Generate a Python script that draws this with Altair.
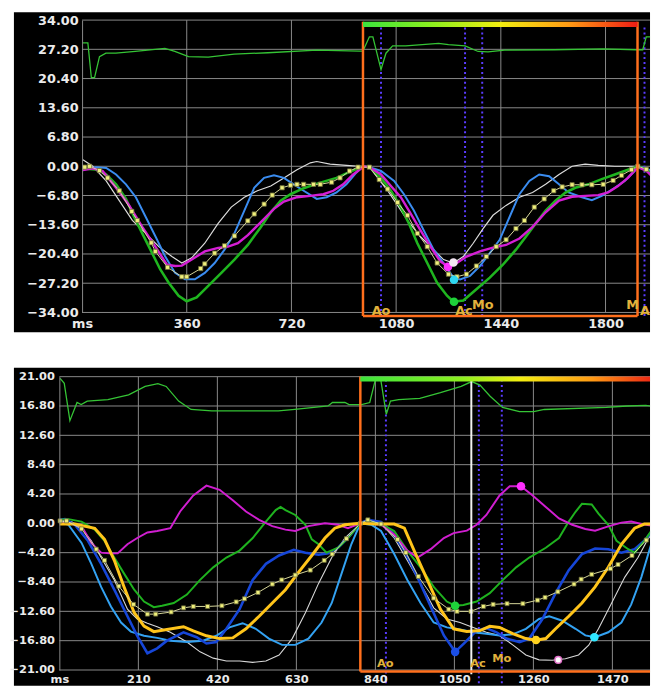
import altair as alt
import pandas as pd

# ======================= TOP PANEL DATA (ms, strain %) =======================
TOP_X_DOMAIN = [-78, 1953]
TOP_Y_DOMAIN = [-34, 34]
TOP_X_TICKS = [0, 360, 720, 1080, 1440, 1800]
TOP_X_GRID = [360, 720, 1080, 1440, 1800]
TOP_Y_TICKS = [-34.0, -27.2, -20.4, -13.6, -6.8, 0.0, 6.8, 13.6, 20.4, 27.2, 34.0]
TOP_CYCLE = [966, 1910]
TOP_EVENTS = [1028, 1317, 1376, 1934]
TOP_EVENT_TEXT = ["Ao", "Ac", "Mo", "M"]
TOP_EVENT_TEXT_MS = [1028, 1313, 1378, 1893]
TOP_EVENT_TEXT_VAL = [-33.6, -33.6, -32.2, -32.2]
TOP_EDGE_TEXT = ["A"]
TOP_EDGE_TEXT_MS = [1953]
TOP_EDGE_TEXT_VAL = [-33.6]

TOP_ECG = [(3, 28.7), (20, 28.7), (32, 20.6), (43, 20.6), (60, 25.5), (82, 26.3), (116, 26.3),
           (183, 26.7), (285, 27.4), (319, 26.7), (366, 25.5), (434, 25.4), (523, 26.1),
           (639, 26.4), (807, 27.0), (954, 26.8), (966, 26.8), (988, 30.1), (1000, 30.1),
           (1028, 22.5), (1045, 26.3), (1068, 28.0), (1113, 28.0), (1226, 28.6), (1260, 28.3),
           (1317, 28.0), (1362, 26.7), (1396, 26.6), (1453, 27.0), (1623, 27.1), (1792, 27.3),
           (1906, 27.1), (1928, 27.1), (1940, 30.1), (1955, 30.1), (1973, 25.0)]

TOP_GREEN = [(3, -0.5), (54, -0.8), (83, -1.9), (117, -4.2), (151, -7.6), (179, -11.8), (207, -15.6),
             (241, -20.2), (269, -24.0), (298, -27.1), (332, -30.1), (360, -31.4), (394, -30.5),
             (434, -27.8), (479, -24.8), (524, -21.7), (570, -18.3), (615, -14.1), (649, -10.7),
             (683, -8.0), (717, -6.5), (762, -5.1), (819, -3.8), (875, -2.7), (920, -1.3), (954, -0.4),
             (966, 0.0), (988, -0.2), (1028, -2.7), (1062, -5.7), (1096, -9.5), (1124, -13.3),
             (1153, -17.9), (1187, -22.5), (1221, -27.1), (1255, -30.1), (1277, -31.5), (1311, -31.2),
             (1356, -28.6), (1402, -25.9), (1447, -22.9), (1492, -19.4), (1526, -16.4), (1560, -13.3),
             (1594, -10.3), (1628, -8.0), (1662, -6.1), (1696, -5.0), (1741, -4.2), (1787, -3.0),
             (1832, -1.9), (1877, -0.8), (1911, 0.0), (1940, -0.8), (1973, -2.5)]

TOP_MAGENTA = [(3, -0.9), (37, -0.5), (71, -1.1), (117, -5.0), (162, -9.1), (207, -14.1), (252, -18.7),
               (292, -22.9), (320, -23.2), (343, -23.1), (377, -21.7), (422, -19.8), (468, -19.0),
               (502, -18.7), (536, -17.9), (570, -16.0), (615, -13.0), (660, -9.9), (694, -8.2),
               (739, -7.2), (785, -6.9), (830, -6.5), (864, -5.7), (898, -4.2), (932, -1.9), (960, -0.5),
               (966, 0.0), (988, -0.2), (1028, -1.9), (1062, -4.6), (1096, -7.2), (1130, -11.0),
               (1164, -14.9), (1198, -18.7), (1232, -22.1), (1260, -23.4), (1289, -22.5), (1322, -21.0),
               (1368, -19.8), (1413, -18.9), (1458, -18.3), (1504, -16.8), (1549, -14.1), (1594, -10.7),
               (1640, -8.0), (1685, -7.1), (1730, -6.9), (1775, -6.7), (1809, -6.1), (1843, -4.6),
               (1877, -2.7), (1911, -0.2), (1940, -1.0), (1973, -3.2)]

TOP_BLUE = [(3, -0.8), (49, -0.2), (83, -0.4), (117, -1.9), (151, -4.2), (185, -7.2), (219, -11.8),
            (253, -16.4), (286, -21.0), (320, -24.8), (354, -26.3), (388, -26.3), (422, -24.8),
            (456, -22.5), (490, -19.4), (524, -15.6), (558, -10.3), (592, -5.0), (626, -2.7),
            (660, -2.1), (694, -2.7), (728, -4.2), (762, -5.7), (807, -7.6), (841, -7.2), (875, -6.1),
            (909, -4.2), (943, -1.5), (966, 0.0), (988, -0.2), (1028, -1.1), (1073, -3.4), (1107, -6.5),
            (1141, -10.3), (1175, -14.9), (1209, -19.4), (1243, -22.5), (1277, -25.9), (1300, -26.3),
            (1334, -25.5), (1368, -23.2), (1402, -20.2), (1436, -17.1), (1470, -11.8), (1504, -6.5),
            (1538, -3.4), (1572, -1.9), (1606, -2.3), (1640, -4.2), (1673, -6.1), (1719, -7.2),
            (1753, -7.9), (1787, -6.9), (1832, -5.0), (1866, -3.4), (1900, -1.1), (1911, 0.0),
            (1940, -0.5), (1973, -1.5)]

TOP_WHITE = [(3, 1.5), (37, 0.0), (83, -3.4), (128, -8.0), (173, -12.6), (219, -15.6), (264, -18.7),
             (309, -21.0), (343, -22.5), (377, -21.3), (422, -17.9), (468, -13.3), (513, -9.5),
             (558, -7.2), (603, -5.7), (649, -4.6), (694, -2.7), (739, -0.8), (785, 0.8), (807, 1.1),
             (853, 0.5), (909, 0.2), (954, 0.0), (966, 0.0), (988, -0.2), (1017, -2.7), (1051, -5.7),
             (1085, -9.1), (1119, -12.6), (1164, -16.4), (1209, -19.4), (1243, -21.7), (1277, -22.5),
             (1311, -21.0), (1345, -17.9), (1379, -14.5), (1413, -11.4), (1458, -9.1), (1504, -7.2),
             (1549, -6.1), (1594, -4.2), (1640, -1.9), (1685, 0.0), (1730, 0.5), (1775, 0.2),
             (1832, 0.0), (1911, 0.0), (1940, -1.0), (1973, -2.8)]

TOP_AVG = [(9, -0.2), (26, 0.0), (60, -1.0), (88, -2.7), (128, -5.7), (171, -10.5), (190, -12.6),
           (238, -17.8), (252, -19.8), (294, -23.5), (343, -25.7), (360, -25.7), (408, -23.8),
           (422, -22.7), (456, -20.2), (490, -18.5), (524, -16.2), (570, -12.7), (592, -11.1),
           (626, -8.8), (654, -6.7), (688, -5.0), (717, -4.4), (739, -4.2), (762, -4.2), (796, -4.2),
           (819, -4.2), (858, -3.7), (887, -2.7), (920, -1.1), (949, -0.2), (988, -0.2), (1022, -3.1),
           (1051, -5.3), (1085, -8.4), (1119, -11.4), (1153, -15.6), (1187, -18.7), (1221, -22.5),
           (1260, -25.1), (1289, -25.7), (1322, -25.1), (1356, -23.2), (1390, -21.0), (1424, -18.7),
           (1458, -17.1), (1492, -14.5), (1521, -12.6), (1555, -9.5), (1589, -7.6), (1622, -5.7),
           (1651, -4.8), (1685, -4.3), (1719, -4.3), (1753, -4.3), (1792, -4.2), (1826, -3.3),
           (1855, -2.1), (1889, -0.8), (1911, 0.0), (1940, -0.7)]

TOP_PEAK_MS = [1258, 1277, 1279, 1279]
TOP_PEAK_VAL = [-23.4, -22.4, -26.4, -31.5]
TOP_PEAK_COLOR = ["#ff2eff", "#f4e6f4", "#2ed8f2", "#1ed23a"]

# ======================= BOTTOM PANEL DATA (ms, strain %) =======================
BOT_X_DOMAIN = [0, 1570]
BOT_Y_DOMAIN = [-21, 21]
BOT_X_TICKS = [0, 210, 420, 630, 840, 1050, 1260, 1470]
BOT_X_GRID = [210, 420, 630, 840, 1050, 1260, 1470]
BOT_Y_TICKS = [-21.0, -16.8, -12.6, -8.4, -4.2, 0.0, 4.2, 8.4, 12.6, 16.8, 21.0]
BOT_CYCLE_START = 800
BOT_EVENTS = [868, 1115, 1176]
BOT_CURSOR = 1095
BOT_EVENT_TEXT = ["Ao", "Ac", "Mo"]
BOT_EVENT_TEXT_MS = [866, 1113, 1176]
BOT_EVENT_TEXT_VAL = [-20.2, -20.2, -19.5]

BOT_ECG = [(2, 20.75), (13, 20.05), (28, 14.7), (47, 17.3), (58, 17.0), (74, 17.5), (129, 17.7),
           (184, 18.4), (228, 19.6), (262, 20.0), (284, 19.6), (317, 17.5), (350, 16.3), (405, 16.1),
           (582, 16.1), (626, 16.3), (714, 16.8), (726, 17.3), (759, 17.3), (770, 17.0), (803, 17.0),
           (825, 17.3), (842, 21.0), (853, 21.0), (869, 15.6), (880, 17.5), (902, 17.7), (958, 17.9),
           (1013, 18.7), (1068, 19.6), (1096, 20.3), (1118, 19.8), (1145, 18.2), (1178, 16.6),
           (1223, 16.0), (1261, 16.0), (1289, 16.3), (1454, 16.6), (1509, 16.8), (1559, 16.9),
           (1585, 16.7)]

BOT_MAGENTA = [(0, 0.0), (24, 0.0), (59, -0.4), (85, -2.8), (111, -4.2), (133, -4.3), (155, -4.3),
               (181, -3.0), (207, -2.1), (234, -1.3), (260, -1.1), (295, -0.7), (321, 1.7), (356, 4.0),
               (391, 5.4), (426, 4.8), (461, 3.3), (496, 1.7), (531, 0.5), (566, -0.4), (601, -0.9),
               (627, -1.1), (662, -0.4), (706, 0.0), (741, -0.2), (767, -0.7), (800, 0.0), (820, 0.0),
               (855, -0.2), (890, -1.6), (925, -3.9), (952, -4.9), (987, -3.7), (1022, -2.1),
               (1048, -1.4), (1083, -1.05), (1109, -0.2), (1135, 1.2), (1170, 4.0), (1197, 5.3),
               (1227, 5.3), (1258, 4.0), (1293, 2.35), (1328, 0.7), (1363, -0.2), (1398, -0.8),
               (1424, -1.05), (1459, -0.44), (1494, 0.1), (1520, 0.25), (1547, -0.1), (1585, -0.4)]

BOT_GREEN = [(0, 0.5), (24, 0.6), (59, 0.25), (94, -0.9), (120, -2.5), (146, -4.9), (172, -7.2),
             (199, -9.5), (225, -11.2), (251, -12.0), (273, -11.8), (304, -11.4), (339, -10.2),
             (374, -8.1), (409, -6.3), (444, -4.9), (479, -3.9), (514, -2.1), (549, 0.25), (575, 1.9),
             (588, 2.35), (601, 1.9), (627, 1.2), (654, -0.2), (671, -2.3), (689, -3.0), (710, -4.2),
             (741, -3.5), (767, -2.1), (800, 0.0), (820, 0.2), (855, -0.1), (890, -1.1), (925, -3.9),
             (960, -6.3), (995, -9.1), (1030, -11.2), (1052, -11.8), (1074, -11.7), (1109, -11.2),
             (1144, -10.0), (1179, -8.1), (1214, -6.3), (1249, -4.9), (1293, -3.5), (1328, -2.1),
             (1354, 0.25), (1372, 1.65), (1389, 2.8), (1415, 2.7), (1433, 1.4), (1459, -0.2),
             (1481, -2.5), (1512, -3.7), (1529, -4.2), (1555, -2.5), (1582, -0.4)]

BOT_YELLOW = [(0, -0.1), (41, -0.1), (94, -0.7), (120, -2.3), (146, -5.3), (172, -9.1), (199, -12.8),
              (225, -14.7), (251, -15.5), (286, -15.2), (330, -14.8), (356, -15.4), (391, -16.1),
              (426, -16.5), (461, -16.4), (496, -15.1), (531, -13.3), (566, -11.4), (601, -9.5),
              (636, -7.0), (671, -4.6), (706, -2.1), (732, -0.7), (759, -0.2), (800, 0.0), (838, -0.1),
              (890, -0.1), (917, -0.7), (943, -3.9), (978, -8.1), (1013, -12.3), (1048, -15.1),
              (1083, -15.5), (1118, -15.35), (1144, -14.75), (1170, -14.9), (1205, -15.8), (1240, -16.5),
              (1267, -16.75), (1293, -16.5), (1319, -15.1), (1354, -13.3), (1389, -11.4), (1424, -9.1),
              (1459, -6.3), (1494, -3.0), (1529, -0.7), (1555, -0.1), (1585, -0.1)]

BOT_DBLUE = [(0, 0.5), (15, 0.6), (41, -0.2), (76, -2.5), (111, -5.8), (146, -9.5), (181, -13.3),
             (207, -16.1), (234, -18.6), (260, -17.9), (286, -16.8), (330, -15.6), (365, -16.3),
             (391, -17.2), (417, -17.0), (444, -15.1), (479, -12.3), (514, -8.1), (549, -5.8),
             (584, -4.6), (623, -3.8), (654, -4.2), (689, -4.5), (715, -4.3), (741, -3.5), (767, -2.1),
             (800, 0.0), (820, 0.5), (855, 0.2), (882, -1.1), (917, -3.9), (952, -7.7), (987, -11.9),
             (1022, -16.05), (1052, -18.4), (1079, -17.0), (1109, -15.35), (1135, -15.0), (1162, -15.6),
             (1188, -16.5), (1223, -17.0), (1249, -16.5), (1284, -13.7), (1319, -10.0), (1354, -6.7),
             (1389, -4.4), (1424, -3.6), (1459, -3.7), (1494, -4.2), (1529, -3.7), (1555, -2.5),
             (1582, -0.7)]

BOT_SKY = [(0, 0.25), (24, -0.2), (59, -2.8), (85, -5.8), (111, -9.1), (137, -11.9), (164, -14.2),
           (190, -15.5), (225, -16.1), (260, -16.4), (295, -16.8), (339, -17.0), (382, -16.8),
           (417, -16.1), (452, -14.9), (487, -14.3), (522, -15.1), (557, -16.5), (592, -17.4),
           (627, -17.4), (662, -16.5), (697, -14.2), (724, -11.4), (750, -7.2), (776, -3.0), (800, 0.0),
           (829, -0.2), (855, -1.1), (890, -4.4), (925, -8.1), (960, -11.4), (995, -14.2), (1030, -14.9),
           (1065, -15.2), (1100, -15.6), (1135, -15.8), (1170, -16.05), (1205, -15.9), (1240, -15.1),
           (1275, -13.7), (1302, -13.3), (1337, -13.95), (1372, -15.1), (1398, -16.05), (1424, -16.3),
           (1459, -15.6), (1494, -14.2), (1520, -11.6), (1547, -7.7), (1573, -3.0), (1585, -1.0)]

BOT_WHITE = [(0, 0.25), (32, 0.25), (59, -0.7), (85, -2.5), (111, -4.9), (146, -8.1), (181, -12.3),
             (207, -13.7), (234, -14.3), (260, -14.8), (295, -15.6), (339, -17.0), (374, -18.4),
             (409, -19.3), (444, -19.7), (479, -19.7), (514, -19.9), (549, -19.7), (584, -18.85),
             (619, -16.5), (654, -12.8), (689, -8.6), (724, -4.9), (759, -2.1), (800, 0.0), (820, 0.5),
             (855, 0.0), (890, -2.1), (925, -5.3), (960, -8.6), (995, -12.1), (1030, -13.7),
             (1065, -14.2), (1100, -14.9), (1135, -15.6), (1170, -16.05), (1205, -17.4), (1240, -18.85),
             (1275, -19.55), (1310, -19.6), (1345, -19.4), (1380, -18.85), (1407, -17.45),
             (1433, -15.1), (1468, -11.4), (1503, -7.7), (1538, -4.9), (1564, -2.3), (1582, -0.9)]

BOT_AVG = [(2, 0.35), (19, 0.35), (59, -0.8), (98, -3.7), (120, -5.3), (158, -9.0), (197, -11.6),
           (234, -13.0), (256, -13.0), (297, -12.7), (330, -12.1), (356, -11.9), (394, -11.9),
           (432, -11.8), (470, -11.25), (492, -10.8), (528, -9.9), (566, -8.7), (591, -8.1),
           (627, -7.4), (667, -6.7), (704, -5.3), (725, -4.4), (763, -2.2), (800, 0.0), (820, 0.5),
           (855, -0.1), (899, -2.3), (921, -4.2), (954, -7.6), (995, -10.7), (1035, -12.3),
           (1057, -12.6), (1094, -12.6), (1127, -11.9), (1153, -11.6), (1190, -11.5), (1232, -11.5),
           (1271, -11.0), (1291, -10.6), (1325, -9.8), (1368, -8.7), (1387, -8.0), (1415, -7.3),
           (1465, -6.5), (1485, -5.9), (1522, -4.6), (1560, -2.4)]

BOT_PEAK_MS = [1052, 1052, 1227, 1267, 1422]
BOT_PEAK_VAL = [-11.8, -18.4, 5.3, -16.7, -16.3]
BOT_PEAK_COLOR = ["#1ed23a", "#1a4ee6", "#ff2eff", "#ffd21e", "#2ee6ff"]
BOT_HOLLOW_MS = [1326]
BOT_HOLLOW_VAL = [-19.55]

# ======================= styling =======================
GRID = "#8a8a8a"
ORANGE = "#ff6f1c"
PURPLE = "#5a3cff"
EVENT_TXT = "#e2b23c"
ECG = "#35c435"
TOP_W, TOP_H = 598, 296
BOT_W, BOT_H = 598, 297
ONE = pd.DataFrame({"k": [0]})


def pts(points):
    return pd.DataFrame(points, columns=["ms", "val"])


def panel(xs, ys, xa, ya):
    X = lambda f: alt.X(f, type="quantitative", scale=xs, axis=xa, title=None)
    Y = lambda f: alt.Y(f, type="quantitative", scale=ys, axis=ya, title=None)
    return X, Y


def gradient(stops):
    return alt.Gradient(gradient="linear", x1=0, x2=1, y1=0, y2=0,
                        stops=[alt.GradientStop(offset=o, color=c) for o, c in stops])


# ---------------------------- top chart ----------------------------
txs = alt.Scale(domain=TOP_X_DOMAIN, nice=False, zero=False)
tys = alt.Scale(domain=TOP_Y_DOMAIN, nice=False, zero=False)
txa = alt.Axis(values=TOP_X_TICKS, format="d", labelExpr="datum.value == 0 ? 'ms' : datum.label",
               grid=False, ticks=False, domain=False, labelPadding=5, labelFontSize=13,
               labelFlush=False, zindex=1)
tya = alt.Axis(values=TOP_Y_TICKS, format=".2f", offset=-23, grid=False, ticks=False, domain=True,
               domainColor=GRID, labelPadding=4, labelFontSize=13, zindex=1)
TX, TY = panel(txs, tys, txa, tya)


def tline(points, color, width):
    return alt.Chart(pts(points)).mark_line(color=color, strokeWidth=width, clip=True).encode(
        x=TX("ms"), y=TY("val"))


top_layers = [
    alt.Chart(ONE).mark_rect(color="black").encode(
        x=alt.value(-46), x2=alt.value(TOP_W), y=alt.value(-8), y2=alt.value(TOP_H + 20)),
    alt.Chart(pd.DataFrame({"v": TOP_Y_TICKS, "a": 0, "b": TOP_X_DOMAIN[1]})).mark_rule(
        color=GRID, strokeWidth=1).encode(y=TY("v"), x=TX("a"), x2="b:Q"),
    alt.Chart(pd.DataFrame({"m": TOP_X_GRID, "a": TOP_Y_DOMAIN[0], "b": TOP_Y_DOMAIN[1]})).mark_rule(
        color=GRID, strokeWidth=1).encode(x=TX("m"), y=TY("a"), y2="b:Q"),
    alt.Chart(pd.DataFrame({"m": TOP_EVENTS, "a": -34.8, "b": 32.5})).mark_rule(
        color=PURPLE, strokeWidth=2, strokeDash=[2, 3]).encode(x=TX("m"), y=TY("a"), y2="b:Q"),
    tline(TOP_ECG, ECG, 1.3),
    tline(TOP_WHITE, "#dcdcdc", 1.2),
    tline(TOP_BLUE, "#3a8cf0", 2),
    tline(TOP_GREEN, "#1fb51f", 2.6),
    tline(TOP_MAGENTA, "#d41ed4", 2.4),
    tline(TOP_AVG, "#d8d89c", 1),
    alt.Chart(pts(TOP_AVG)).mark_square(size=18, filled=True, fill="#f0f07c", stroke="#6e6e3c",
                                        strokeWidth=0.8, opacity=1).encode(x=TX("ms"), y=TY("val")),
    alt.Chart(pd.DataFrame({"ms": TOP_PEAK_MS, "val": TOP_PEAK_VAL, "c": TOP_PEAK_COLOR})).mark_circle(
        size=75, opacity=1).encode(x=TX("ms"), y=TY("val"), color=alt.Color("c:N", scale=None)),
    # cycle box
    alt.Chart(pd.DataFrame({"m": TOP_CYCLE, "a": -34.8, "b": 33.6})).mark_rule(
        color=ORANGE, strokeWidth=2.5).encode(x=TX("m"), y=TY("a"), y2="b:Q"),
    alt.Chart(pd.DataFrame({"a": [TOP_CYCLE[0]], "b": [TOP_CYCLE[1]], "v": [-34.8]})).mark_rule(
        color=ORANGE, strokeWidth=2.5).encode(x=TX("a"), x2="b:Q", y=TY("v")),
    alt.Chart(pd.DataFrame({"a": [TOP_CYCLE[0]], "b": [TOP_CYCLE[1]], "v0": [32.4], "v1": [33.6]})).mark_rect(
        color=gradient([(0, "#3ce43c"), (0.25, "#8cf01e"), (0.5, "#f2ee10"), (0.75, "#ff9a14"), (1, "#ee1c14")])
    ).encode(x=TX("a"), x2="b:Q", y=TY("v0"), y2="v1:Q"),
    alt.Chart(pd.DataFrame({"t": TOP_EVENT_TEXT, "ms": TOP_EVENT_TEXT_MS, "val": TOP_EVENT_TEXT_VAL})).mark_text(
        font="DejaVu Sans", fontWeight="bold", fontSize=13, color=EVENT_TXT).encode(
        x=TX("ms"), y=TY("val"), text="t:N"),
    alt.Chart(pd.DataFrame({"t": TOP_EDGE_TEXT, "ms": TOP_EDGE_TEXT_MS, "val": TOP_EDGE_TEXT_VAL})).mark_text(
        font="DejaVu Sans", fontWeight="bold", fontSize=13, color=EVENT_TXT, align="right").encode(
        x=TX("ms"), y=TY("val"), text="t:N"),
]
top = alt.layer(*top_layers).properties(width=TOP_W, height=TOP_H)

# ---------------------------- bottom chart ----------------------------
bxs = alt.Scale(domain=BOT_X_DOMAIN, nice=False, zero=False)
bys = alt.Scale(domain=BOT_Y_DOMAIN, nice=False, zero=False)
bxa = alt.Axis(values=BOT_X_TICKS, format="d", labelExpr="datum.value == 0 ? 'ms' : datum.label",
               grid=False, ticks=False, domain=False, labelPadding=4, labelFontSize=11.5,
               labelFlush=False, zindex=1)
bya = alt.Axis(values=BOT_Y_TICKS, format=".2f", grid=False, ticks=False, domain=True,
               domainColor=GRID, labelPadding=5, labelFontSize=11.5, zindex=1)
BX, BY = panel(bxs, bys, bxa, bya)


def bline(points, color, width):
    return alt.Chart(pts(points)).mark_line(color=color, strokeWidth=width, clip=True).encode(
        x=BX("ms"), y=BY("val"))


bot_layers = [
    alt.Chart(ONE).mark_rect(color="black").encode(
        x=alt.value(-46), x2=alt.value(BOT_W), y=alt.value(-9), y2=alt.value(BOT_H + 16)),
    alt.Chart(pd.DataFrame({"v": BOT_Y_TICKS, "a": BOT_X_DOMAIN[0], "b": BOT_X_DOMAIN[1]})).mark_rule(
        color=GRID, strokeWidth=1).encode(y=BY("v"), x=BX("a"), x2="b:Q"),
    alt.Chart(pd.DataFrame({"m": BOT_X_GRID, "a": BOT_Y_DOMAIN[0], "b": BOT_Y_DOMAIN[1]})).mark_rule(
        color=GRID, strokeWidth=1).encode(x=BX("m"), y=BY("a"), y2="b:Q"),
    alt.Chart(pd.DataFrame({"m": BOT_EVENTS, "a": -22.9, "b": 20.3})).mark_rule(
        color=PURPLE, strokeWidth=2, strokeDash=[2, 3]).encode(x=BX("m"), y=BY("a"), y2="b:Q"),
    bline(BOT_ECG, ECG, 1.3),
    bline(BOT_WHITE, "#d8d8d8", 1.1),
    bline(BOT_SKY, "#33a2f2", 2),
    bline(BOT_DBLUE, "#1646d8", 2.6),
    bline(BOT_GREEN, "#1fb21f", 2),
    bline(BOT_MAGENTA, "#d01ed0", 2),
    bline(BOT_YELLOW, "#ffc41a", 3),
    bline(BOT_AVG, "#d8d89c", 1),
    alt.Chart(pts(BOT_AVG)).mark_square(size=16, filled=True, fill="#f0f07c", stroke="#6e6e3c",
                                        strokeWidth=0.8, opacity=1).encode(x=BX("ms"), y=BY("val")),
    alt.Chart(pd.DataFrame({"m": [BOT_CURSOR], "a": [-21.6], "b": [20.75]})).mark_rule(
        color="#f2f2f2", strokeWidth=2).encode(x=BX("m"), y=BY("a"), y2="b:Q"),
    alt.Chart(pd.DataFrame({"ms": BOT_PEAK_MS, "val": BOT_PEAK_VAL, "c": BOT_PEAK_COLOR})).mark_circle(
        size=75, opacity=1).encode(x=BX("ms"), y=BY("val"), color=alt.Color("c:N", scale=None)),
    alt.Chart(pd.DataFrame({"ms": BOT_HOLLOW_MS, "val": BOT_HOLLOW_VAL})).mark_point(
        size=45, filled=True, fill="#ffffff", stroke="#e070c8", strokeWidth=1.5, opacity=1).encode(
        x=BX("ms"), y=BY("val")),
    # cycle box
    alt.Chart(pd.DataFrame({"m": [BOT_CYCLE_START], "a": [-21.2], "b": [21.03]})).mark_rule(
        color=ORANGE, strokeWidth=2.5).encode(x=BX("m"), y=BY("a"), y2="b:Q"),
    alt.Chart(pd.DataFrame({"a": [BOT_CYCLE_START], "b": [BOT_X_DOMAIN[1]], "v": [-21.2]})).mark_rule(
        color=ORANGE, strokeWidth=2.5).encode(x=BX("a"), x2="b:Q", y=BY("v")),
    alt.Chart(pd.DataFrame({"a": [BOT_CYCLE_START], "b": [BOT_X_DOMAIN[1]], "v0": [20.3], "v1": [21.03]})).mark_rect(
        color=gradient([(0, "#3ce43c"), (0.35, "#8cf01e"), (0.55, "#f2ee10"), (0.8, "#ff9a14"), (1, "#ee2a14")])
    ).encode(x=BX("a"), x2="b:Q", y=BY("v0"), y2="v1:Q"),
    alt.Chart(pd.DataFrame({"t": BOT_EVENT_TEXT, "ms": BOT_EVENT_TEXT_MS, "val": BOT_EVENT_TEXT_VAL})).mark_text(
        font="DejaVu Sans", fontWeight="bold", fontSize=11.5, color=EVENT_TXT).encode(
        x=BX("ms"), y=BY("val"), text="t:N"),
]
bottom = alt.layer(*bot_layers).properties(width=BOT_W, height=BOT_H)

chart = alt.vconcat(top, bottom, spacing=36).properties(
    padding={"left": 0, "top": 0, "right": 0, "bottom": 0}
).configure(background="white").configure_view(strokeOpacity=0).configure_axis(
    labelColor="#ebebeb", labelFont="DejaVu Sans", labelFontWeight="bold"
)

chart.save("out.html", embed_options={"renderer": "svg", "actions": False})
